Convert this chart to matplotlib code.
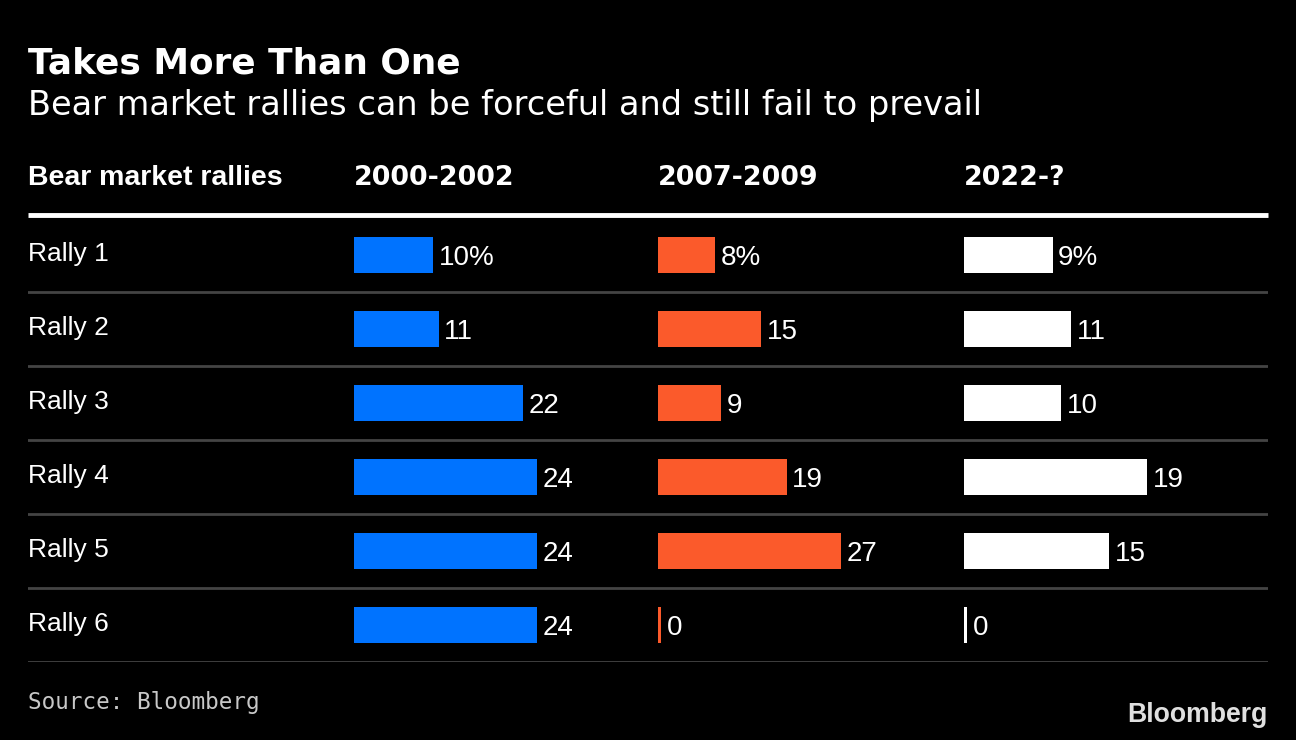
import matplotlib.pyplot as plt

# data
rallies = ['Rally 1', 'Rally 2', 'Rally 3', 'Rally 4', 'Rally 5', 'Rally 6']
periods = ['2000-2002', '2007-2009', '2022-?']
gains_2000 = [10.4, 11.1, 22.2, 24.0, 24.0, 24.0]
gains_2007 = [8.4, 15.2, 9.3, 19.0, 27.0, 0.0]
gains_2022 = [9.2, 11.1, 10.1, 19.0, 15.1, 0.0]
colors = ['#0073ff', '#fb5a2b', '#ffffff']

W, H = 1296, 740
BG = '#000000'


def fx(px):
    return px / W


def fy(py):
    return 1 - py / H


fig = plt.figure(figsize=(W / 100, H / 100), dpi=100, facecolor=BG)

# titles
fig.text(fx(28), fy(63), 'Takes More Than One', color='white', fontsize=25.8,
         fontweight='bold', family='DejaVu Sans', va='center', ha='left')
fig.text(fx(28), fy(105), 'Bear market rallies can be forceful and still fail to prevail',
         color='white', fontsize=24.2, family='DejaVu Sans', va='center', ha='left')

# table area: rows are 74 px tall starting at y=218
top, bottom = 218, 662
n = len(rallies)

bg_ax = fig.add_axes([fx(28), fy(bottom), fx(1268 - 28), (bottom - top) / H])
bg_ax.set_facecolor('none')
bg_ax.set_xlim(0, 1)
bg_ax.set_ylim(n - 0.5, -0.5)
bg_ax.axis('off')
for i in range(n):
    bg_ax.axhline(i + 0.5, color='#444444', lw=2)
    bg_ax.text(0, i - 0.02, rallies[i], color='white', fontsize=19,
               family='Liberation Sans', va='center', ha='left')
bg_ax.axhline(-0.54, color='white', lw=3.5, clip_on=False, solid_capstyle='butt')

# headers
fig.text(fx(28), fy(178), 'Bear market rallies', color='white', fontsize=20.5,
         fontweight='bold', family='Liberation Sans', va='center', ha='left')

col_left = [354, 658, 964]
bar_px = 183
for k, (period, vals) in enumerate(zip(periods, [gains_2000, gains_2007, gains_2022])):
    fig.text(fx(col_left[k]), fy(178), period, color='white', fontsize=19.4,
             fontweight='bold', family='DejaVu Sans', va='center', ha='left')
    ax = fig.add_axes([fx(col_left[k]), fy(bottom), bar_px / W, (bottom - top) / H])
    ax.set_facecolor('none')
    vmax = max(vals)
    ax.set_xlim(0, vmax)
    ax.set_ylim(n - 0.5, -0.5)
    ax.axis('off')
    stub = 3 * vmax / bar_px  # zero values still get a thin tick
    widths = [max(v, stub) for v in vals]
    ax.barh(range(n), widths, height=36 / 74, color=colors[k])
    for i, v in enumerate(vals):
        label = f'{int(v)}%' if i == 0 else f'{int(v)}'
        ax.annotate(label, (widths[i], i), xytext=(4, -2), textcoords='offset points',
                    color='white', fontsize=20, family='Liberation Sans',
                    va='center', ha='left', annotation_clip=False)

# footer
fig.text(fx(28), fy(703), 'Source: Bloomberg', color='#c8c8c8', fontsize=16.3,
         family='DejaVu Sans Mono', va='center', ha='left')
fig.text(fx(1268), fy(715), 'Bloomberg', color='#e0e0e0', fontsize=19.2,
         fontweight='bold', family='Liberation Sans', va='center', ha='right')

fig.savefig('out.png', dpi=100, facecolor=BG)
